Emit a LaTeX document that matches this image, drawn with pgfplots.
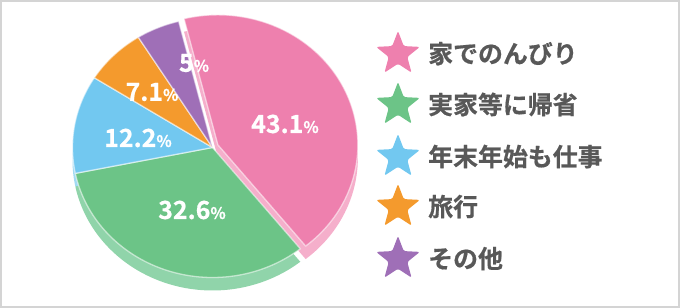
\documentclass[border=0pt]{standalone}
\usepackage{pgfplots}
\pgfplotsset{compat=1.18}
\usepackage{fontspec}
\usetikzlibrary{shapes.geometric}
\newfontfamily\jp{Noto Sans CJK JP}[BoldFont={* Bold}, BoldFeatures={FakeBold=0.6}]
\definecolor{pinkc}{HTML}{EE80AE}
\definecolor{pinks}{HTML}{F5AFCB}
\definecolor{greenc}{HTML}{6CC487}
\definecolor{greens}{HTML}{90D4AA}
\definecolor{bluec}{HTML}{72C8F0}
\definecolor{blues}{HTML}{A2DAF3}
\definecolor{orangec}{HTML}{F49A2D}
\definecolor{oranges}{HTML}{F7BD76}
\definecolor{purplec}{HTML}{9F6FB7}
\definecolor{purples}{HTML}{BF9CD0}
\definecolor{txt}{HTML}{585858}
% shares in percent
\def\vA{43.1}% 家でのんびり
\def\vB{32.6}% 実家等に帰省
\def\vC{12.2}% 年末年始も仕事
\def\vD{7.1}%  旅行
\def\vE{5.0}%  その他
\pgfmathsetmacro{\aA}{104}
\pgfmathsetmacro{\aB}{\aA-3.6*\vA}
\pgfmathsetmacro{\aC}{\aB-3.6*\vB}
\pgfmathsetmacro{\aD}{\aC-3.6*\vC}
\pgfmathsetmacro{\aE}{\aD-3.6*\vD}
\pgfmathsetmacro{\aF}{\aE-3.6*\vE}
\pgfmathsetmacro{\mA}{(\aA+\aB)/2}
\pgfmathsetmacro{\ex}{6*cos(\mA)}
\pgfmathsetmacro{\ey}{6*sin(\mA)}
\def\cx{212.5}\def\cy{160.5}\def\rx{140}\def\ry{130}\def\dep{13}
\begin{document}
\begin{tikzpicture}
\begin{axis}[
  scale only axis, width=678bp, height=306bp,
  xmin=1, xmax=679, ymin=1, ymax=307,
  axis lines=box, ticks=none,
  axis line style={draw=black!17, line width=2bp},
  clip=false,
  every axis plot/.append style={samples=90, variable=\t, line join=round},
]
% ---- sides (3D depth) ----
\addplot[fill=greens, draw=none, domain=\aC:\aB]
  ({\cx+\rx*cos(\t)}, {\cy-\dep+\ry*sin(\t)}) -- (\cx,\cy-\dep) -- cycle;
\addplot[fill=blues, draw=none, domain=\aD:\aC]
  ({\cx+\rx*cos(\t)}, {\cy-\dep+\ry*sin(\t)}) -- (\cx,\cy-\dep) -- cycle;
\addplot[fill=pinks, draw=none, domain=\aB:\aA]
  ({\cx+\ex+\rx*cos(\t)}, {\cy+\ey-\dep+\ry*sin(\t)}) -- (\cx+\ex,\cy+\ey-\dep) -- cycle;
% ---- top faces ----
\addplot[fill=greenc, draw=white, draw opacity=0.55, line width=1.3bp, domain=\aC:\aB]
  ({\cx+\rx*cos(\t)}, {\cy+\ry*sin(\t)}) -- (\cx,\cy) -- cycle;
\addplot[fill=bluec, draw=white, draw opacity=0.55, line width=1.3bp, domain=\aD:\aC]
  ({\cx+\rx*cos(\t)}, {\cy+\ry*sin(\t)}) -- (\cx,\cy) -- cycle;
\addplot[fill=orangec, draw=white, draw opacity=0.55, line width=1.3bp, domain=\aE:\aD]
  ({\cx+\rx*cos(\t)}, {\cy+\ry*sin(\t)}) -- (\cx,\cy) -- cycle;
\addplot[fill=purplec, draw=white, draw opacity=0.55, line width=1.3bp, domain=\aF:\aE]
  ({\cx+\rx*cos(\t)}, {\cy+\ry*sin(\t)}) -- (\cx,\cy) -- cycle;
\addplot[fill=pinkc, draw=white, draw opacity=0.55, line width=1.3bp, domain=\aB:\aA]
  ({\cx+\ex+\rx*cos(\t)}, {\cy+\ey+\ry*sin(\t)}) -- (\cx+\ex,\cy+\ey) -- cycle;
% ---- value labels ----
\def\lab#1#2#3{%
  \node[text=white, font=\jp\bfseries] at (#1,#2)
    {{\fontsize{25}{25}\selectfont #3}{\fontsize{16}{16}\selectfont\%}};}
\lab{285}{184}{43.1}
\lab{192}{98}{32.6}
\lab{138}{170}{12.2}
\lab{152}{216}{7.1}
\lab{194}{245}{5}
% ---- legend ----
\def\leg#1#2#3{%
  \node[star, star points=5, star point ratio=2.35, minimum size=46bp, inner sep=0pt,
        fill=#1, rounded corners=1.5bp] at (398,#2+9) {};
  \node[anchor=base west, inner sep=0pt, text=txt, font=\jp\bfseries\fontsize{25}{25}\selectfont]
    at (428,#2) {#3};}
\leg{pinkc}{245}{家でのんびり}
\leg{greenc}{194}{実家等に帰省}
\leg{bluec}{142}{年末年始も仕事}
\leg{orangec}{92}{旅行}
\leg{purplec}{40}{その他}
\end{axis}
\end{tikzpicture}
\end{document}
